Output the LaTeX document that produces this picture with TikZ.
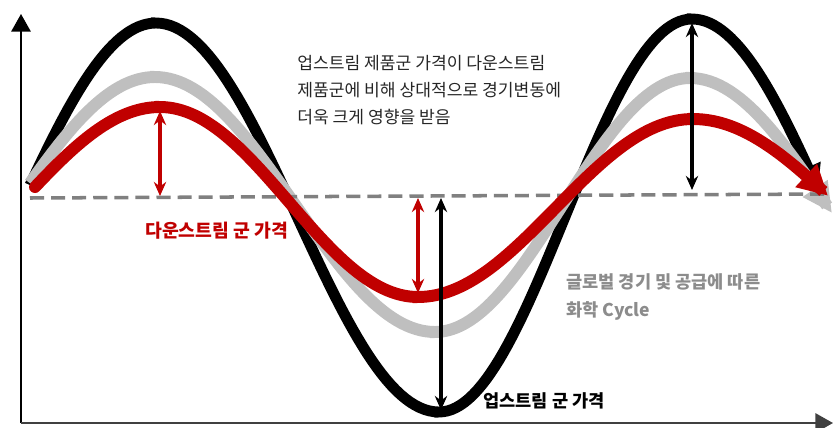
\documentclass[tikz,border=0pt]{standalone}
\usepackage{fontspec}
\usetikzlibrary{arrows.meta}
\newfontfamily\kr{Noto Sans CJK KR}
\definecolor{cyclered}{HTML}{C00000}
\definecolor{cyclegray}{HTML}{BFBFBF}
\definecolor{basegray}{HTML}{808080}
\definecolor{notegray}{HTML}{8C8C8C}
\definecolor{textdark}{HTML}{262626}

\begin{document}
\begin{tikzpicture}[x=0.02cm,y=-0.02cm,
    axis/.style={line width=1pt,-{Triangle[length=10pt,width=11pt]}},
    upcurve/.style={line width=6.2pt,black,-{Triangle[length=14pt,width=15pt]}},
    cyclecurve/.style={line width=6.8pt,cyclegray,-{Triangle[length=17pt,width=16pt]}},
    downcurve/.style={line width=6.8pt,cyclered,line cap=round,-{Triangle[length=17pt,width=17pt]}},
    baseline/.style={line width=2pt,basegray,dash pattern=on 8pt off 4pt},
    gap/.style={line width=1.9pt,{Stealth[length=8pt,width=7pt]}-{Stealth[length=8pt,width=7pt]}},
    label/.style={anchor=west,inner sep=0pt,font=\kr\bfseries\fontsize{10.4}{12}\selectfont}]
    \useasboundingbox (0,0) rectangle (833,427);

    % Axes
    \coordinate (origin) at (21,423);
    \coordinate (ytop) at (21,14);
    \coordinate (xend) at (833,423);
    \draw[axis] (origin) -- (ytop);
    \draw[axis,draw=black!75] (origin) -- (xend);

    % Upstream price (black)
    \draw[upcurve] plot[domain=30:156,samples=30] (\x,{217.5+194.5*cos((\x+126)/282*180)})
        -- plot[domain=156:439,samples=60] (\x,{217.5-194.5*cos((\x-156)/283*180)})
        -- plot[domain=439:692,samples=60] (\x,{215.5+196.5*cos((\x-439)/253*180)})
        -- plot[domain=692:818,samples=30] (\x,{215.5-196.5*cos((\x-692)/275*180)});

    % Chemical cycle (gray)
    \draw[cyclecurve] plot[domain=30:155,samples=30] (\x,{204.5+127.5*cos((\x+125)/280*180)})
        -- plot[domain=155:435,samples=60] (\x,{204.5-127.5*cos((\x-155)/280*180)})
        -- plot[domain=435:690,samples=60] (\x,{205+127*cos((\x-435)/255*180)})
        -- plot[domain=690:832,samples=30] (\x,{205-127*cos((\x-690)/273*180)});

    % Baseline
    \coordinate (basestart) at (30,198);
    \coordinate (baseend) at (828,194);
    \draw[baseline] (basestart) -- (baseend);

    % Downstream price (red)
    \draw[downcurve] plot[domain=35:160,samples=30] (\x,{202+95*cos((\x+118)/278*180)})
        -- plot[domain=160:418,samples=60] (\x,{202-95*cos((\x-160)/258*180)})
        -- plot[domain=418:693,samples=60] (\x,{208+89*cos((\x-418)/275*180)})
        -- plot[domain=693:828,samples=30] (\x,{208-89*cos((\x-693)/296*180)});

    % Gaps to the baseline
    \coordinate (redtop) at (160,111);
    \coordinate (redtopbase) at (160,196);
    \coordinate (redlowbase) at (418,198);
    \coordinate (redlow) at (418,293);
    \coordinate (uplowbase) at (441,198);
    \coordinate (uplow) at (441,410);
    \coordinate (uptop) at (692,23);
    \coordinate (uptopbase) at (692,190);
    \draw[gap,cyclered] (redtop) -- (redtopbase);
    \draw[gap,cyclered] (redlowbase) -- (redlow);
    \draw[gap] (uplowbase) -- (uplow);
    \draw[gap] (uptop) -- (uptopbase);

    % Labels
    \node[anchor=west,inner sep=0pt,align=left,text=textdark,font=\kr\fontsize{9.75}{15.3}\selectfont] (note) at (297,90)
        {업스트림 제품군 가격이 다운스트림\\제품군에 비해 상대적으로 경기변동에\\더욱 크게 영향을 받음};
    \node[label,text=cyclered] (downlabel) at (145,231) {다운스트림 군 가격};
    \node[label,text=black,font=\kr\bfseries\fontsize{10}{12}\selectfont] (uplabel) at (483,401) {업스트림 군 가격};
    \node[label,text=notegray,align=left,font=\kr\bfseries\fontsize{10}{15.5}\selectfont] (cyclelabel) at (566,297)
        {글로벌 경기 및 공급에 따른\\화학 Cycle};
\end{tikzpicture}
\end{document}
